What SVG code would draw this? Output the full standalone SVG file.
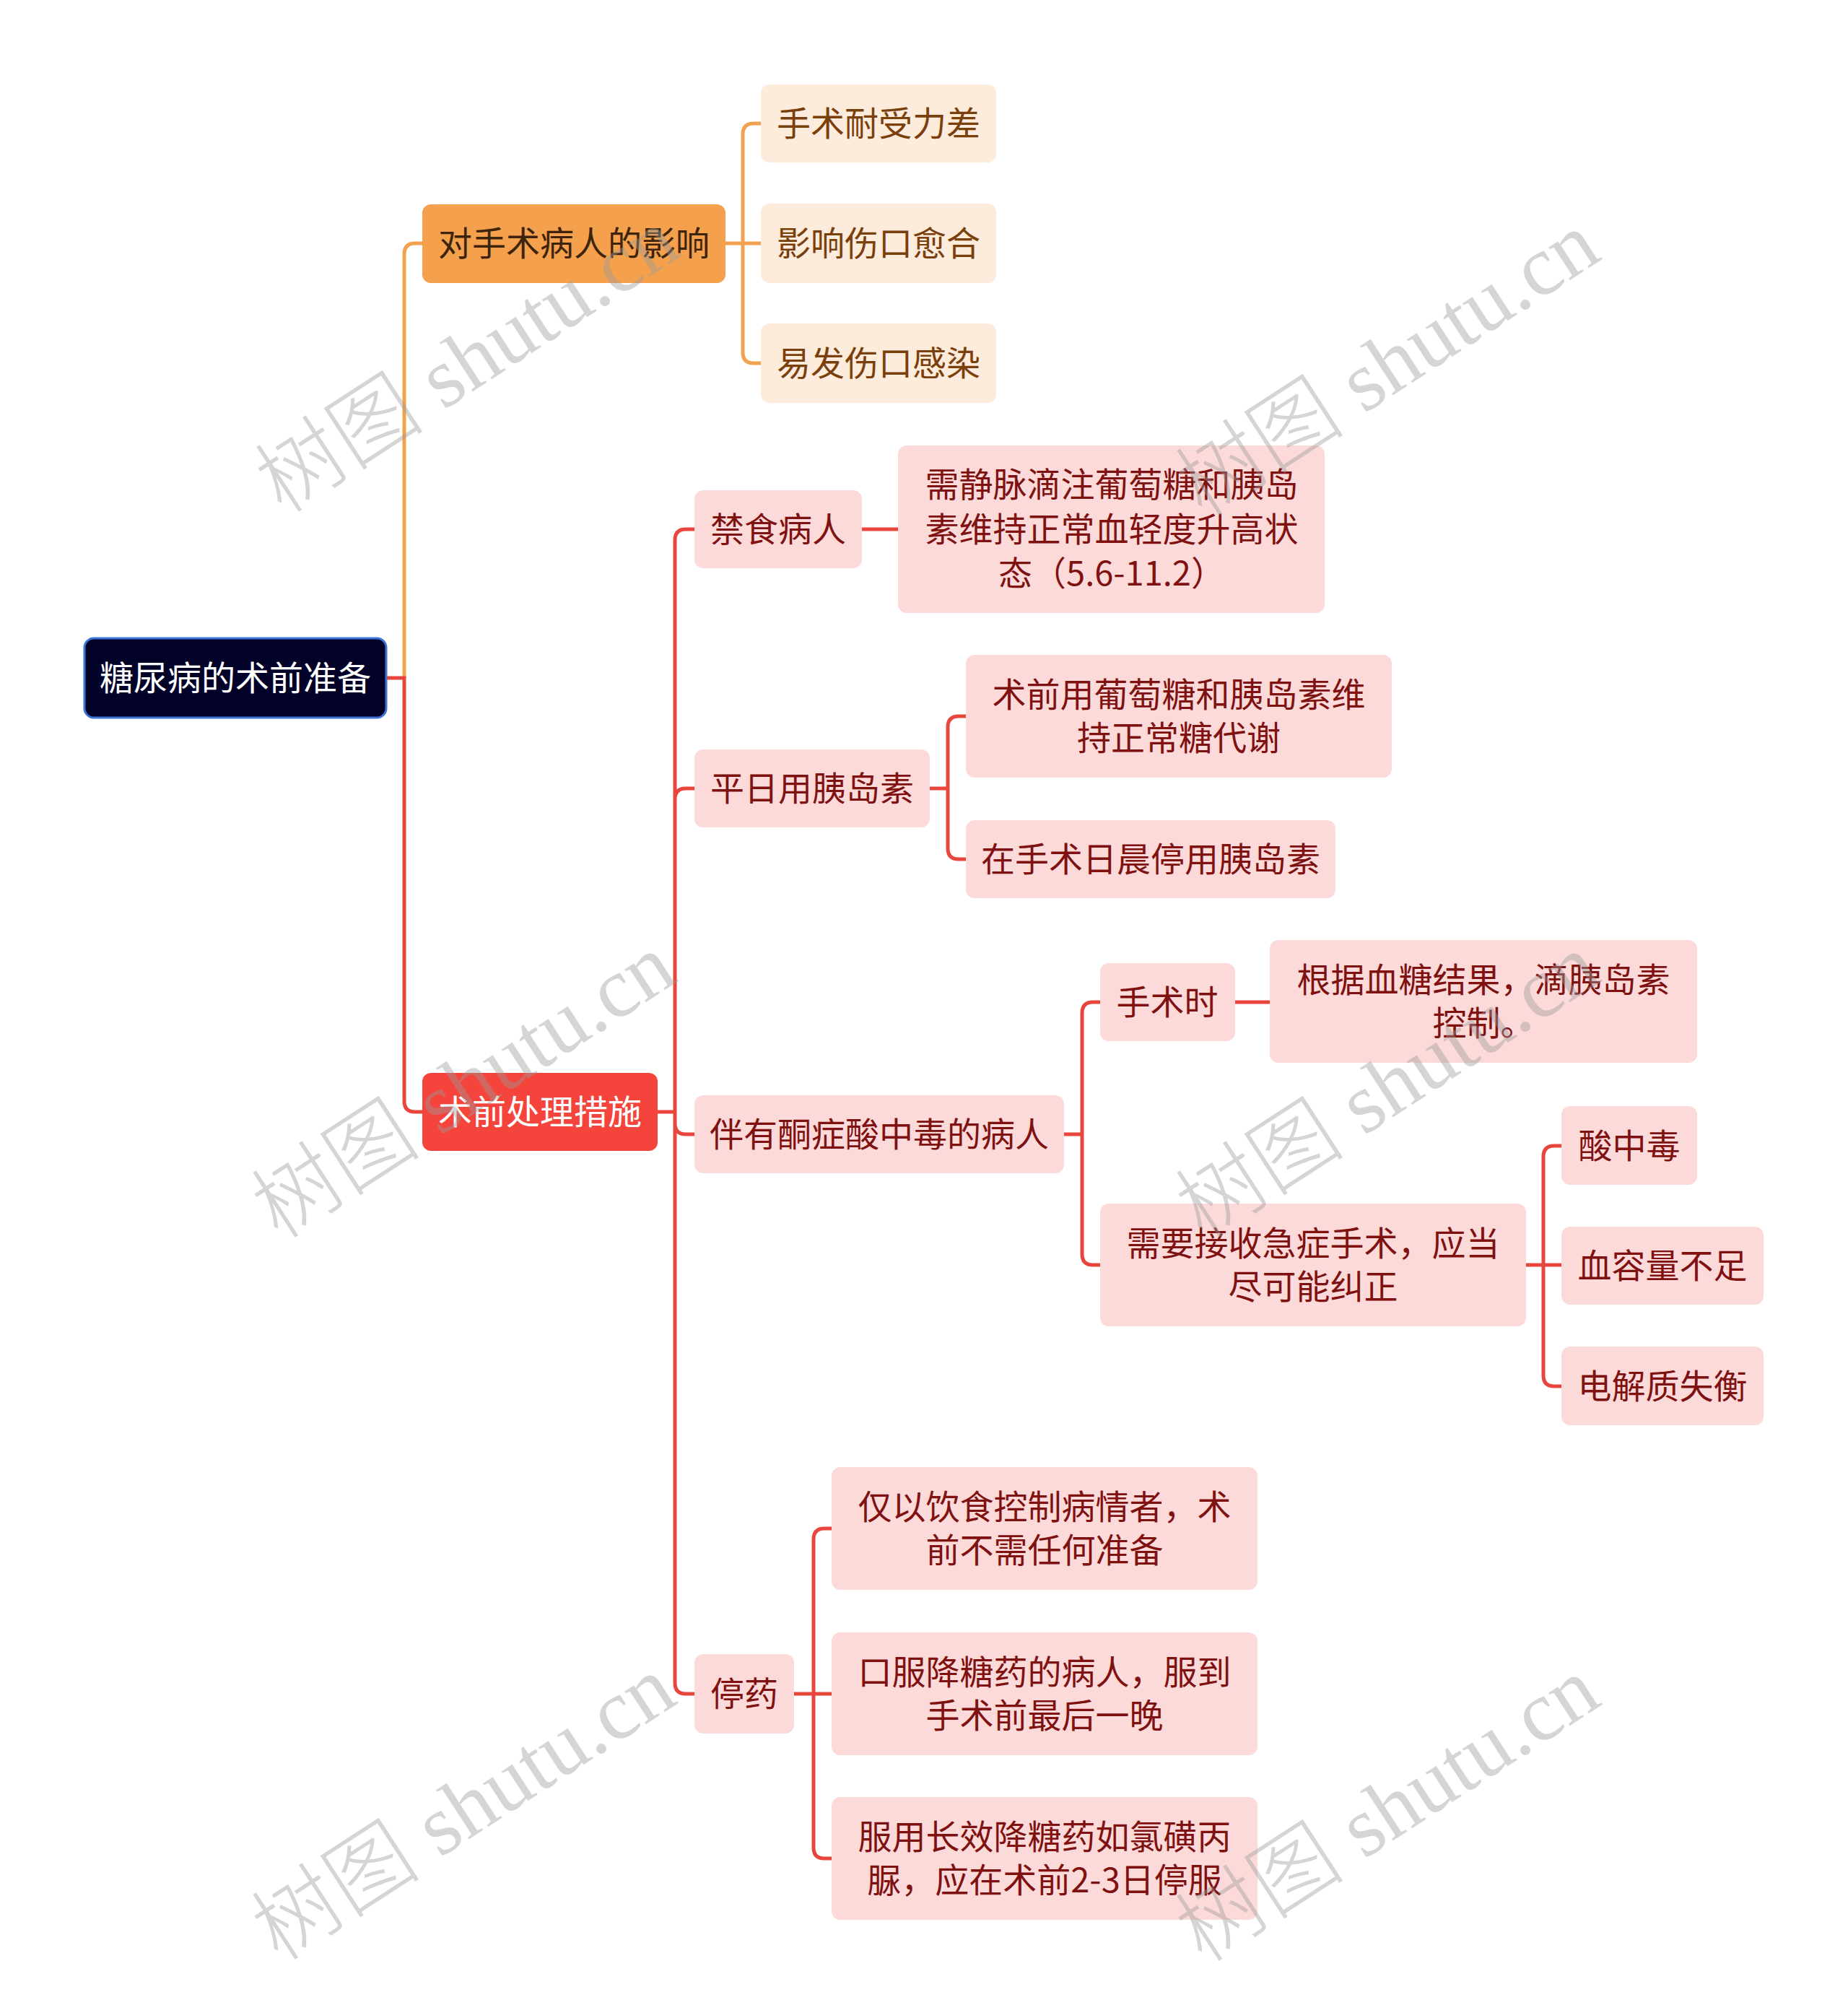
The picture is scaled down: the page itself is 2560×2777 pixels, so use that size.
<svg xmlns="http://www.w3.org/2000/svg" width="2560" height="2777" viewBox="0 0 2560 2777">
<style>
text{font-family:"Noto Sans CJK SC","Noto Sans",sans-serif;font-size:47px;text-anchor:middle;dominant-baseline:central}
.root rect{fill:#020228;stroke:#3d72d6;stroke-width:3}
.root text{fill:#ffffff}
.b1 rect{fill:#F5A04C}
.b1 text{fill:#3e240c}
.c1 rect{fill:#FDEBDC}
.c1 text{fill:#7a400c}
.b2 rect{fill:#F5443B}
.b2 text{fill:#ffffff}
.c2 rect{fill:#FDDADA}
.c2 text{fill:#7f1111}
.lo{fill:none;stroke:#F2A24E;stroke-width:5}
.lr{fill:none;stroke:#E8463D;stroke-width:5}
.wm text{font-family:"Liberation Serif","Noto Sans CJK SC",serif;font-size:118px;font-weight:300;fill:#9a9a9a;fill-opacity:0.42;dominant-baseline:alphabetic}
</style>
<rect width="2560" height="2777" fill="#ffffff"/>
<g id="connectors">
<path class="lo" d="M560 939 V352 Q560 337 575 337 H585"/>
<path class="lr" d="M535 939 H560 V1525 Q560 1540 575 1540 H585"/>
<path class="lo" d="M1005 337 H1054 M1029 337 V186 Q1029 171 1044 171 H1054 M1029 337 V488 Q1029 503 1044 503 H1054"/>
<path class="lr" d="M911 1540 H935 M935 1540 V748 Q935 733 950 733 H962 M935 1540 V1107 Q935 1092 950 1092 H962 M935 1540 V1556 Q935 1571 950 1571 H962 M935 1540 V2331 Q935 2346 950 2346 H962"/>
<path class="lr" d="M1194 733 H1244"/>
<path class="lr" d="M1288 1092 H1313 M1313 1092 V1007 Q1313 992 1328 992 H1338 M1313 1092 V1175 Q1313 1190 1328 1190 H1338"/>
<path class="lr" d="M1474 1571 H1499 M1499 1571 V1403 Q1499 1388 1514 1388 H1524 M1499 1571 V1737 Q1499 1752 1514 1752 H1524"/>
<path class="lr" d="M1711 1388 H1759"/>
<path class="lr" d="M2114 1752 H2163 M2138 1752 V1602 Q2138 1587 2153 1587 H2163 M2138 1752 V1905 Q2138 1920 2153 1920 H2163"/>
<path class="lr" d="M1100 2346 H1152 M1127 2346 V2132 Q1127 2117 1142 2117 H1152 M1127 2346 V2559 Q1127 2574 1142 2574 H1152"/>
</g>
<g id="root" class="root"><rect x="117" y="884" width="418" height="110" rx="13"/><text x="326" y="935">糖尿病的术前准备</text></g>
<g id="n-impact" class="b1"><rect x="585" y="283" width="420" height="109" rx="12"/><text x="795" y="333">对手术病人的影响</text></g>
<g id="n-impact-1" class="c1"><rect x="1054" y="117" width="326" height="108" rx="12"/><text x="1217" y="167">手术耐受力差</text></g>
<g id="n-impact-2" class="c1"><rect x="1054" y="282" width="326" height="110" rx="12"/><text x="1217" y="333">影响伤口愈合</text></g>
<g id="n-impact-3" class="c1"><rect x="1054" y="448" width="326" height="110" rx="12"/><text x="1217" y="499">易发伤口感染</text></g>
<g id="n-measures" class="b2"><rect x="585" y="1486" width="326" height="108" rx="12"/><text x="748" y="1536">术前处理措施</text></g>
<g id="n-fast" class="c2"><rect x="962" y="679" width="232" height="108" rx="12"/><text x="1078" y="729">禁食病人</text></g>
<g id="n-fast-1" class="c2"><rect x="1244" y="617" width="591" height="232" rx="12"/><text x="1540" y="667">需静脉滴注葡萄糖和胰岛</text><text x="1540" y="729">素维持正常血轻度升高状</text><text x="1540" y="790">态（5.6-11.2）</text></g>
<g id="n-insulin" class="c2"><rect x="962" y="1038" width="326" height="108" rx="12"/><text x="1125" y="1088">平日用胰岛素</text></g>
<g id="n-insulin-1" class="c2"><rect x="1338" y="907" width="590" height="170" rx="12"/><text x="1633" y="958">术前用葡萄糖和胰岛素维</text><text x="1633" y="1018">持正常糖代谢</text></g>
<g id="n-insulin-2" class="c2"><rect x="1338" y="1136" width="512" height="108" rx="12"/><text x="1594" y="1186">在手术日晨停用胰岛素</text></g>
<g id="n-keto" class="c2"><rect x="962" y="1517" width="512" height="108" rx="12"/><text x="1218" y="1567">伴有酮症酸中毒的病人</text></g>
<g id="n-keto-op" class="c2"><rect x="1524" y="1334" width="187" height="108" rx="12"/><text x="1617" y="1384">手术时</text></g>
<g id="n-keto-op-1" class="c2"><rect x="1759" y="1302" width="592" height="170" rx="12"/><text x="2055" y="1353">根据血糖结果，滴胰岛素</text><text x="2055" y="1413">控制。</text></g>
<g id="n-keto-em" class="c2"><rect x="1524" y="1667" width="590" height="170" rx="12"/><text x="1819" y="1718">需要接收急症手术，应当</text><text x="1819" y="1778">尽可能纠正</text></g>
<g id="n-keto-em-1" class="c2"><rect x="2163" y="1532" width="188" height="109" rx="12"/><text x="2257" y="1583">酸中毒</text></g>
<g id="n-keto-em-2" class="c2"><rect x="2163" y="1699" width="280" height="108" rx="12"/><text x="2303" y="1749">血容量不足</text></g>
<g id="n-keto-em-3" class="c2"><rect x="2163" y="1865" width="280" height="109" rx="12"/><text x="2303" y="1916">电解质失衡</text></g>
<g id="n-stop" class="c2"><rect x="962" y="2291" width="138" height="110" rx="12"/><text x="1031" y="2342">停药</text></g>
<g id="n-stop-1" class="c2"><rect x="1152" y="2032" width="590" height="170" rx="12"/><text x="1447" y="2083">仅以饮食控制病情者，术</text><text x="1447" y="2143">前不需任何准备</text></g>
<g id="n-stop-2" class="c2"><rect x="1152" y="2261" width="590" height="170" rx="12"/><text x="1447" y="2312">口服降糖药的病人，服到</text><text x="1447" y="2372">手术前最后一晚</text></g>
<g id="n-stop-3" class="c2"><rect x="1152" y="2489" width="590" height="170" rx="12"/><text x="1447" y="2540">服用长效降糖药如氯磺丙</text><text x="1447" y="2600">脲，应在术前2-3日停服</text></g>
<g id="watermarks" class="wm">
<text transform="translate(669 533) rotate(-33)">树图 shutu.cn</text>
<text transform="translate(1944 538) rotate(-33)">树图 shutu.cn</text>
<text transform="translate(664 1538) rotate(-33)">树图 shutu.cn</text>
<text transform="translate(1944 1538) rotate(-33)">树图 shutu.cn</text>
<text transform="translate(664 2538) rotate(-33)">树图 shutu.cn</text>
<text transform="translate(1944 2540) rotate(-33)">树图 shutu.cn</text>
</g>
</svg>
